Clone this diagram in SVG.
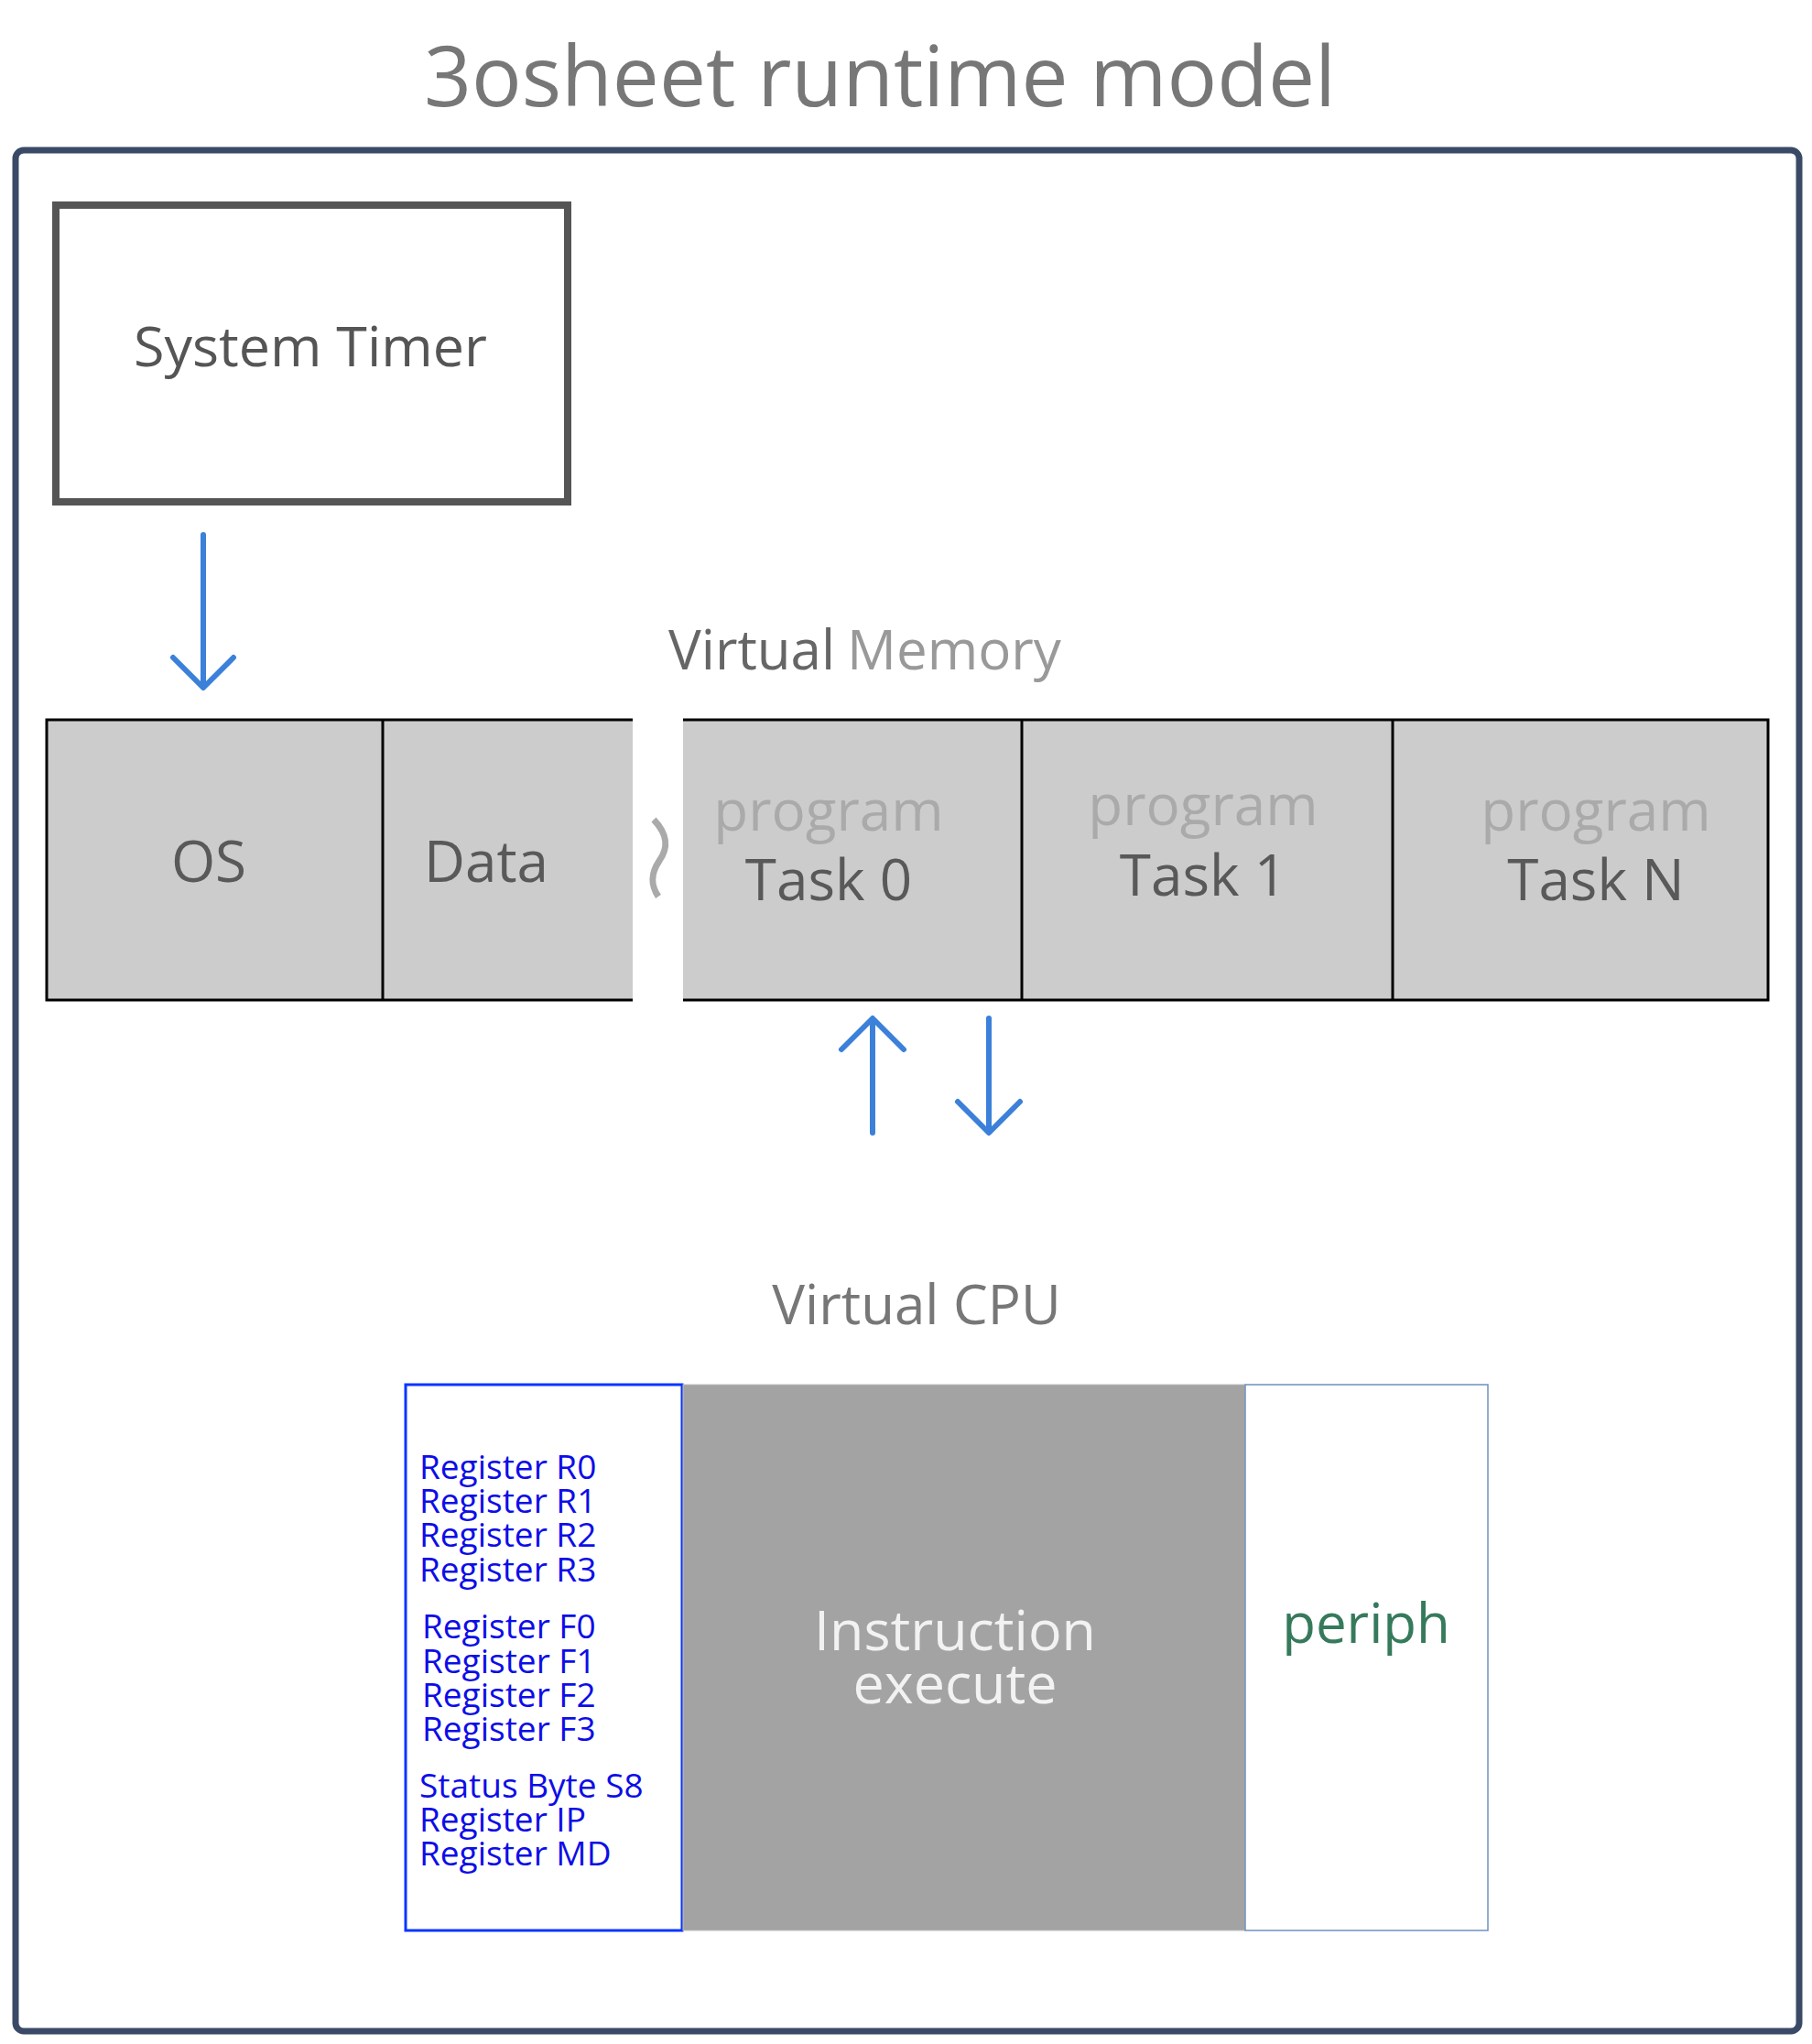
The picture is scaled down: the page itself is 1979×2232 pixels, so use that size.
<svg xmlns="http://www.w3.org/2000/svg" width="1979" height="2232" viewBox="0 0 1979 2232">
<style>
  text { font-family: "Open Sans", "Noto Sans", "DejaVu Sans", sans-serif; }
  .lbl { font-size: 62px; fill: #595959; text-anchor: middle; }
  .prog { font-size: 62px; fill: #aaaaaa; text-anchor: middle; }
  .reg { font-size: 37px; fill: #0d0de8; }
  .cell { fill: #cccccc; stroke: #000000; stroke-width: 3; }
  .arrow { fill: none; stroke: #3b80d9; stroke-width: 6; stroke-linecap: round; stroke-linejoin: round; }
</style>
<rect width="1979" height="2232" fill="#ffffff"/>
<g id="title">
  <text x="961" y="116" font-size="91" fill="#777777" text-anchor="middle">3osheet runtime model</text>
</g>
<g id="frame">
  <rect x="17" y="164" width="1948" height="2054" rx="9" ry="9" fill="none" stroke="#3a4a66" stroke-width="7"/>
</g>
<g id="system-timer">
  <rect x="61" y="224" width="559" height="324" fill="#ffffff" stroke="#555555" stroke-width="8"/>
  <text x="339" y="400" font-size="61" fill="#555555" text-anchor="middle">System Timer</text>
</g>
<g id="virtual-memory-label">
  <text x="730" y="731" font-size="60" fill="#666666">Virtual</text>
  <text x="925" y="731" font-size="60" fill="#999999">Memory</text>
</g>
<g id="memory-bar">
  <rect class="cell" x="51" y="786" width="1880" height="306"/>
  <line x1="418" y1="786" x2="418" y2="1092" stroke="#000" stroke-width="3"/>
  <line x1="1116" y1="786" x2="1116" y2="1092" stroke="#000" stroke-width="3"/>
  <line x1="1521" y1="786" x2="1521" y2="1092" stroke="#000" stroke-width="3"/>
  <rect x="691" y="784" width="55" height="310" fill="#ffffff"/>
  <path d="M714 895 C730 912 730 926 720 940 C710 955 711 967 719 979" fill="none" stroke="#aaaaaa" stroke-width="7"/>
</g>
<g id="os">
  <text class="lbl" x="228" y="963">OS</text>
</g>
<g id="data">
  <text class="lbl" x="531" y="963">Data</text>
</g>
<g id="task0">
  <text class="prog" x="905" y="907">program</text>
  <text class="lbl" x="905" y="983">Task 0</text>
</g>
<g id="task1">
  <text class="prog" x="1314" y="901">program</text>
  <text class="lbl" x="1314" y="978">Task 1</text>
</g>
<g id="taskN">
  <text class="prog" x="1743" y="907">program</text>
  <text class="lbl" x="1743" y="983">Task N</text>
</g>
<g id="virtual-cpu-label">
  <text x="1001" y="1446" font-size="60" fill="#777777" text-anchor="middle">Virtual CPU</text>
</g>
<g id="registers">
  <rect x="443" y="1512" width="302" height="596" fill="#ffffff" stroke="#0a35ff" stroke-width="3"/>
  <text class="reg" x="458" y="1615">Register R0</text>
  <text class="reg" x="458" y="1652">Register R1</text>
  <text class="reg" x="458" y="1689">Register R2</text>
  <text class="reg" x="458" y="1727">Register R3</text>
  <text class="reg" x="461" y="1789">Register F0</text>
  <text class="reg" x="461" y="1827">Register F1</text>
  <text class="reg" x="461" y="1864">Register F2</text>
  <text class="reg" x="461" y="1901">Register F3</text>
  <text class="reg" x="458" y="1963">Status Byte S8</text>
  <text class="reg" x="458" y="2000">Register IP</text>
  <text class="reg" x="458" y="2037">Register MD</text>
</g>
<g id="instruction-execute">
  <rect x="746" y="1512" width="614" height="596" fill="#a3a3a3" stroke="#bdbdbd" stroke-width="1"/>
  <text x="1043" y="1802" font-size="61" fill="#f2f2f2" text-anchor="middle">Instruction</text>
  <text x="1043" y="1860" font-size="61" fill="#f2f2f2" text-anchor="middle">execute</text>
</g>
<g id="periph">
  <rect x="1360" y="1512" width="265" height="596" fill="#ffffff" stroke="#7090c0" stroke-width="1.5"/>
  <text x="1492" y="1794" font-size="60" fill="#367a5c" text-anchor="middle">periph</text>
</g>
<g id="connectors">
  <path class="arrow" d="M222 584 V750 M189 718 L222 751 L255 718"/>
  <path class="arrow" d="M953 1237 V1113 M919 1146 L953 1112 L987 1146"/>
  <path class="arrow" d="M1080 1112 V1236 M1046 1203 L1080 1237 L1114 1203"/>
</g>
</svg>
